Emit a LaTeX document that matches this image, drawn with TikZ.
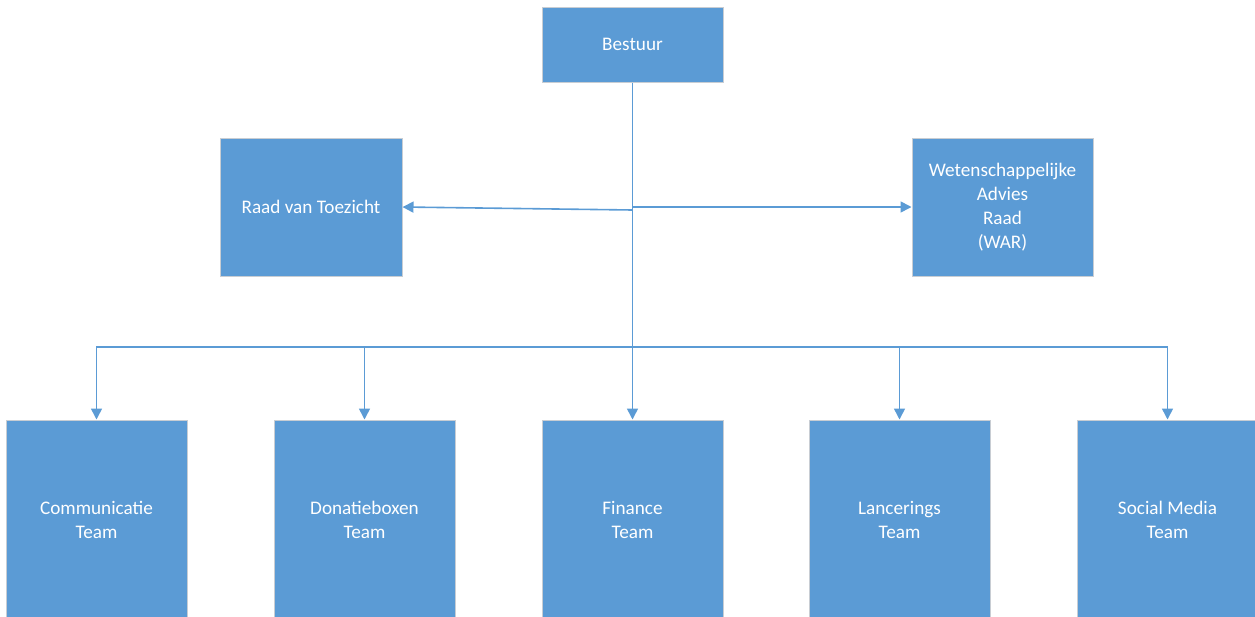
\documentclass[tikz,border=0pt]{standalone}
\usepackage{fontspec}
\setmainfont{Carlito}
\usetikzlibrary{arrows.meta}
\definecolor{boxblue}{HTML}{5B9BD5}
\definecolor{boxedge}{HTML}{C8CDD3}
\begin{document}
\begin{tikzpicture}[x=1pt,y=-1pt,
  orgbox/.style={draw=boxedge,line width=1pt,fill=boxblue,text=white,align=center,
    font=\fontsize{19.2}{24}\selectfont,inner sep=0pt,minimum width=181pt},
  link/.style={draw=boxblue,line width=1.6pt,-{Triangle[length=11pt,width=11pt]}}]
\useasboundingbox (0,0) rectangle (1255,616);
\clip (0,0) rectangle (1255,616);
\node[orgbox,minimum height=75pt] (bestuur) at (632.5,44.5) {Bestuur};
\node[orgbox,minimum width=182pt,minimum height=138pt] (raad) at (311,207) {Raad van Toezicht};
\node[orgbox,minimum height=138pt] (war) at (1002.5,207) {Wetenschappelijke\\Advies\\Raad\\(WAR)};
\node[orgbox,minimum height=200pt] (comm) at (96.5,520) {Communicatie\\Team};
\node[orgbox,minimum height=200pt] (dona) at (364.5,520) {Donatieboxen\\Team};
\node[orgbox,minimum height=200pt] (fin) at (632.5,520) {Finance\\Team};
\node[orgbox,minimum height=200pt] (lanc) at (899.5,520) {Lancerings\\Team};
\node[orgbox,minimum height=200pt] (soc) at (1167.5,520) {Social Media\\Team};
\coordinate (jl) at (632.5,210);
\coordinate (jr) at (632.5,207);
\coordinate (bus) at (632.5,347);
\draw[link] (bestuur.south) -- (fin.north);
\draw[link] (jl) -- (raad.east);
\draw[link] (jr) -- (war.west);
\draw[link] (bus) -| (comm.north);
\draw[link] (bus) -| (dona.north);
\draw[link] (bus) -| (lanc.north);
\draw[link] (bus) -| (soc.north);
\end{tikzpicture}
\end{document}
